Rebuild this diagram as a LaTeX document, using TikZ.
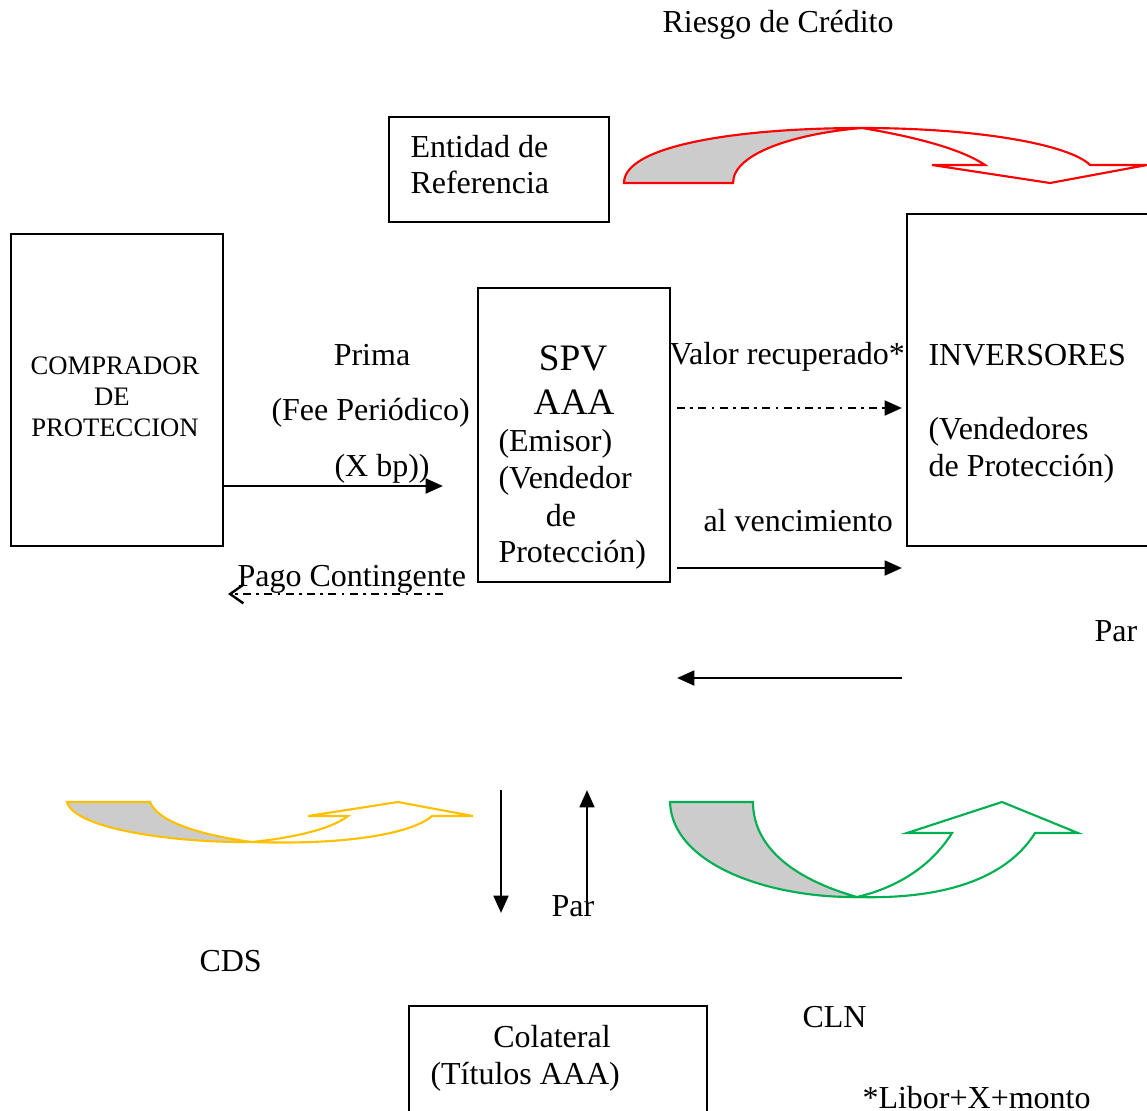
\documentclass[tikz,border=0pt]{standalone}
\usepackage{fontspec}
\setmainfont{Liberation Serif}
\usetikzlibrary{arrows.meta}
\tikzset{
  box/.style={draw=black, line width=0.7pt},
  txt/.style={inner sep=0pt, anchor=base west, font=\fontsize{12pt}{14pt}\selectfont},
  txtc/.style={inner sep=0pt, anchor=base, font=\fontsize{12pt}{14pt}\selectfont},
  flow/.style={line width=1.05pt, -{Triangle[length=6.5pt,width=5.5pt]}},
  dashdot/.style={dash pattern=on 3pt off 2pt on 1pt off 2pt},
  shade/.style={fill=black!20},
}
\definecolor{cdsyellow}{RGB}{255,192,0}
\definecolor{clngreen}{RGB}{0,176,80}
\begin{document}
\begin{tikzpicture}[x=0.375pt,y=-0.375pt]
\useasboundingbox (0,0) rectangle (1147,1111);
\clip (0,0) rectangle (1147,1111);

% boxes
\draw[box] (389,117) rectangle (609,222);
\draw[box] (11,234) rectangle (223,546);
\draw[box] (478,288) rectangle (670,582);
\draw[box] (907,214) rectangle (1160,546);
\draw[box] (409,1006) rectangle (707,1125);

% texts
\node[txt] (riesgo) at (662,32) {Riesgo de Crédito};
\node[txt] (ent1) at (410,157) {Entidad de};
\node[txt] (ent2) at (410,193) {Referencia};
\node[txtc, font=\fontsize{10pt}{12pt}\selectfont] (comp1) at (115,374) {COMPRADOR};
\node[txtc, font=\fontsize{10pt}{12pt}\selectfont] (comp2) at (112,405) {DE};
\node[txtc, font=\fontsize{10pt}{12pt}\selectfont] (comp3) at (115,436) {PROTECCION};
\node[txtc, font=\fontsize{14pt}{16pt}\selectfont] (spv1) at (573,370) {SPV};
\node[txtc, font=\fontsize{14pt}{16pt}\selectfont] (spv2) at (574,414) {AAA};
\node[txt] (spv3) at (498,451) {(Emisor)};
\node[txt] (spv4) at (498,488) {(Vendedor};
\node[txtc] (spv5) at (561,526) {de};
\node[txt] (spv6) at (498,562) {Protección)};
\node[txt] (inv1) at (928,365) {INVERSORES};
\node[txt] (inv2) at (928,439) {(Vendedores};
\node[txt] (inv3) at (928,476) {de Protección)};
\node[txtc] (prima) at (372,365) {Prima};
\node[txt] (fee) at (271,420) {(Fee Periódico)};
\node[txt] (xbp) at (334,476) {(X bp))};
\node[txt] (valor) at (669,364) {Valor recuperado*};
\node[txt] (venc) at (703,531) {al vencimiento};
\node[txt] (pago) at (237,586) {Pago Contingente};
\node[txt] (par1) at (1094,641) {Par};
\node[txt] (par2) at (551,916) {Par};
\node[txt] (cds) at (199,971) {CDS};
\node[txt] (cln) at (802,1027) {CLN};
\node[txtc] (col1) at (552,1047) {Colateral};
\node[txt] (col2) at (430,1084) {(Títulos AAA)};
\node[txt] (libor) at (862,1108) {*Libor+X+monto};

% arrow endpoints
\coordinate (a1s) at (223,486); \coordinate (a1e) at (443,486);
\coordinate (a2s) at (443,594); \coordinate (a2e) at (228,594);
\coordinate (a3s) at (677,408); \coordinate (a3e) at (902,408);
\coordinate (a4s) at (677,568); \coordinate (a4e) at (902,568);
\coordinate (a5s) at (902,678); \coordinate (a5e) at (677,678);
\coordinate (a6s) at (501,790); \coordinate (a6e) at (501,913);
\coordinate (a7s) at (587,905); \coordinate (a7e) at (587,790);

\draw[flow] (a1s) -- (a1e);
\draw[line width=1.05pt, dashdot, -{Straight Barb[length=5pt,width=7pt,line width=0.9pt]}] (a2s) -- (a2e);
\draw[flow, dashdot] (a3s) -- (a3e);
\draw[flow] (a4s) -- (a4e);
\draw[flow] (a5s) -- (a5e);
\draw[flow] (a6s) -- (a6e);
\draw[flow] (a7s) -- (a7e);

% red curved arrow (credit risk)
\draw[red, line width=0.8pt, shade] (624,183) .. controls (624,145) and (740,128) .. (862,128)
   .. controls (800,133) and (733,152) .. (733,183) -- cycle;
\draw[red, line width=0.8pt, fill=white] (862,128) .. controls (980,128) and (1070,145) .. (1090,165)
   -- (1147,165) -- (1050,183) -- (932,165) -- (985,165)
   .. controls (960,148) and (910,136) .. (862,128) -- cycle;

% yellow curved arrow (CDS)
\draw[cdsyellow, line width=0.8pt, shade] (67,802) .. controls (75,830) and (180,843) .. (252,842)
   .. controls (200,835) and (158,822) .. (150,802) -- cycle;
\draw[cdsyellow, line width=0.8pt, fill=white] (252,842) .. controls (340,845) and (410,835) .. (432,816)
   -- (473,816) -- (398,802) -- (308,816) -- (348,816)
   .. controls (330,830) and (290,838) .. (252,842) -- cycle;

% green curved arrow (CLN)
\draw[clngreen, line width=0.8pt, shade] (670,802) .. controls (672,865) and (770,898) .. (857,897)
   .. controls (790,878) and (753,845) .. (753,802) -- cycle;
\draw[clngreen, line width=0.8pt, fill=white] (857,897) .. controls (960,900) and (1012,870) .. (1035,833)
   -- (1078,833) -- (1002,802) -- (907,833) -- (952,833)
   .. controls (930,868) and (895,888) .. (857,897) -- cycle;
\end{tikzpicture}
\end{document}
